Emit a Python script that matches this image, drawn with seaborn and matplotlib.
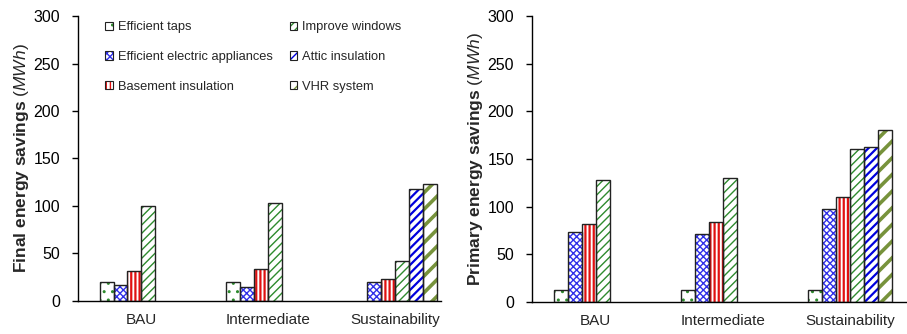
import matplotlib
matplotlib.use("Agg")
import matplotlib.pyplot as plt
import matplotlib.patches as mpatches
import seaborn as sns
import pandas as pd

# -----------------------------
# DATA
# -----------------------------
scenarios = ["BAU", "Intermediate", "Sustainability"]
measures = [
    "Efficient taps",
    "Efficient electric appliances",
    "Basement insulation",
    "Improve windows",
    "Attic insulation",
    "VHR system",
]

final_taps = [20, 20, 0]
final_appliances = [17, 15, 20]
final_basement = [31, 34, 23]
final_windows = [100, 103, 42]
final_attic = [0, 0, 118]
final_vhr = [0, 0, 123]

primary_taps = [13, 13, 13]
primary_appliances = [73, 71, 97]
primary_basement = [82, 84, 110]
primary_windows = [128, 130, 161]
primary_attic = [0, 0, 163]
primary_vhr = [0, 0, 180]

# hatch styles per measure: (pattern, colour, hatch linewidth)
styles = {
    "Efficient taps": ("..", "#2E8B2E", 1.0),
    "Efficient electric appliances": ("xxxxx", "#3030E8", 1.0),
    "Basement insulation": ("||||", "#E01010", 1.6),
    "Improve windows": ("////", "#2E8B2E", 1.0),
    "Attic insulation": ("////", "#0000DD", 1.6),
    "VHR system": ("//", "#77933C", 2.6),
}


def long_table(series):
    rows = []
    for m, vals in zip(measures, series):
        for s, v in zip(scenarios, vals):
            rows.append({"scenario": s, "measure": m, "value": v})
    return pd.DataFrame(rows)


final_df = long_table([final_taps, final_appliances, final_basement,
                       final_windows, final_attic, final_vhr])
primary_df = long_table([primary_taps, primary_appliances, primary_basement,
                         primary_windows, primary_attic, primary_vhr])

# -----------------------------
# STYLE
# -----------------------------
sns.set_style("white")
plt.rcParams["font.family"] = ["Liberation Sans", "DejaVu Sans"]
plt.rcParams["mathtext.fontset"] = "custom"
plt.rcParams["mathtext.rm"] = "Liberation Sans"
plt.rcParams["mathtext.it"] = "Liberation Sans:italic"
plt.rcParams["mathtext.bf"] = "Liberation Sans:bold"

fig = plt.figure(figsize=(9.07, 3.34), dpi=100)
ax1 = fig.add_axes([0.086, 0.099, 0.400, 0.853])
ax2 = fig.add_axes([0.5866, 0.096, 0.4134, 0.856])


def draw(ax, df, ylabel, xmax):
    sns.barplot(data=df, x="scenario", y="value", hue="measure",
                hue_order=measures, order=scenarios, width=0.66,
                palette=["white"] * 6, legend=False,
                err_kws={"linewidth": 0}, ax=ax)
    for cont, m in zip(ax.containers, measures):
        pat, col, hlw = styles[m]
        for p in cont.patches:
            if p.get_height() <= 0:
                p.set_visible(False)
                continue
            p.set_facecolor("white")
            p.set_edgecolor(col)
            p.set_linewidth(0)
            p.set_hatch(pat)
            if hasattr(p, "set_hatch_linewidth"):
                p.set_hatch_linewidth(hlw)
            ax.add_patch(mpatches.Rectangle(p.get_xy(), p.get_width(), p.get_height(),
                                            fill=False, edgecolor="#222222",
                                            linewidth=1.0, zorder=3))
    ax.set_ylim(0, 300)
    ax.set_yticks(range(0, 301, 50))
    ax.set_xlim(-0.5, xmax)
    ax.set_xlabel("")
    ax.set_ylabel(ylabel, fontsize=12.5, labelpad=2)
    ax.tick_params(axis="y", which="both", left=True, length=4, width=1,
                   direction="out", labelsize=11.5, colors="black", pad=9)
    ax.tick_params(axis="x", bottom=False, labelsize=11, pad=5)
    for sp in ["top", "right"]:
        ax.spines[sp].set_visible(False)
    for sp in ["left", "bottom"]:
        ax.spines[sp].set_color("black")
        ax.spines[sp].set_linewidth(1.0)


draw(ax1, final_df, r"$\bf{Final\ energy\ savings}$ $\it{(MWh)}$", 2.36)
draw(ax2, primary_df, r"$\bf{Primary\ energy\ savings}$ $\it{(MWh)}$", 2.45)

# legend
handles = []
for m in measures:
    pat, col, hlw = styles[m]
    h1 = mpatches.Patch(facecolor="white", edgecolor=col, linewidth=0, hatch=pat)
    if hasattr(h1, "set_hatch_linewidth"):
        h1.set_hatch_linewidth(hlw * 0.7)
    h2 = mpatches.Patch(fill=False, edgecolor="#222222", linewidth=0.8)
    handles.append((h1, h2))

ax1.legend(handles, measures, ncol=2, loc="upper left",
           bbox_to_anchor=(0.06, 1.0), frameon=False,
           prop={"size": 9.3},
           handlelength=0.6, handleheight=0.6, handletextpad=0.4,
           labelspacing=1.38, columnspacing=1.3, borderaxespad=0)

fig.savefig("out.png", dpi=100)
